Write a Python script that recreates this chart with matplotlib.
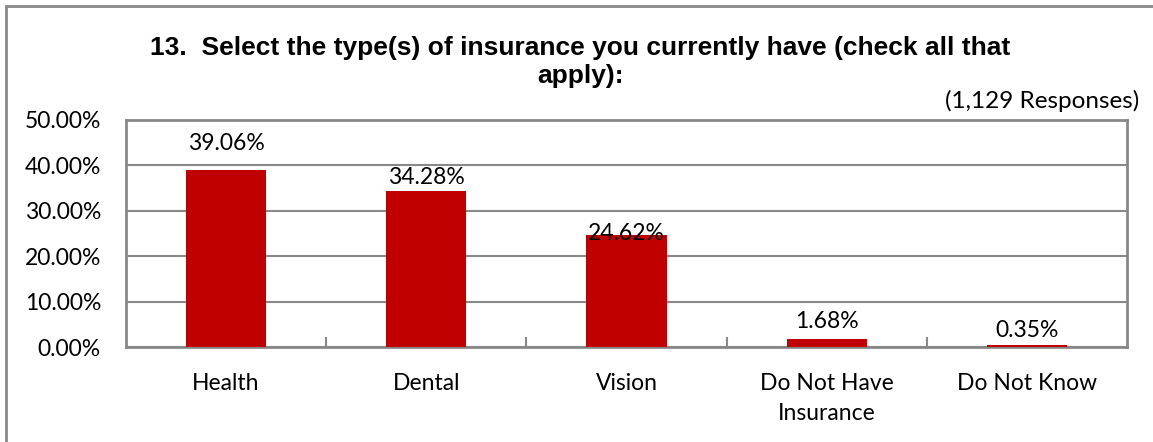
import matplotlib
matplotlib.use("Agg")
import matplotlib.pyplot as plt
from matplotlib.patches import Rectangle
from matplotlib.ticker import FuncFormatter

categories = ["Health", "Dental", "Vision", "Do Not Have\nInsurance", "Do Not Know"]
values = [39.06, 34.28, 24.62, 1.68, 0.35]
yticks = [0, 10, 20, 30, 40, 50]
title = "13.  Select the type(s) of insurance you currently have (check all that\napply):"
note = "(1,129 Responses)"

# label offsets above bar tops (pixels) – layout only
label_offsets_px = [26, 14, 2, 18, 15]

W, H = 1153, 442
fig = plt.figure(figsize=(W/100, H/100), dpi=100)
font = "Lato"

# outer border (left and top visible)
fig.patches.append(Rectangle((6/W, -0.05), 1.05, 1.05 - 6/H, transform=fig.transFigure,
                             fill=False, edgecolor="#888888", linewidth=2))

left, right, top, bottom = 126, 1127, 120, 347
ax = fig.add_axes([left/W, 1-bottom/H, (right-left)/W, (bottom-top)/H])
x = list(range(len(categories)))
bars = ax.bar(x, values, width=0.4, color="#C00000", zorder=3)
ax.set_xlim(-0.5, len(categories)-0.5)
ax.set_ylim(0, 50)
ax.set_yticks(yticks)
ax.yaxis.set_major_formatter(FuncFormatter(lambda v, p: f"{v:.2f}%"))
ax.grid(axis="y", color="#888888", linewidth=1.5, zorder=0)
for s in ax.spines.values():
    s.set_color("#888888")
    s.set_linewidth(2)
ax.tick_params(axis="y", length=0, pad=18, labelsize=16.5)
ax.set_xticks(x)
ax.set_xticklabels(categories, fontsize=16.5, linespacing=1.5)
ax.tick_params(axis="x", length=0, pad=19)
for lab in ax.get_xticklabels() + ax.get_yticklabels():
    lab.set_family(font)
ax.set_xticks([i + 0.5 for i in range(len(categories)-1)], minor=True)
ax.tick_params(axis="x", which="minor", direction="in", length=7, width=1.5, color="#888888")

for b, v, off in zip(bars, values, label_offsets_px):
    ax.annotate(f"{v:.2f}%", (b.get_x()+b.get_width()/2, v), xytext=(0, off*0.72),
                textcoords="offset points", ha="center", va="center",
                fontsize=16.5, family=font)

fig.text(580/W, 1-62/H, title, ha="center", va="center", fontsize=19,
         fontweight="bold", family="Liberation Sans", linespacing=1.2)
fig.text(1139/W, 1-101/H, note, ha="right", va="center", fontsize=17.5, family=font)

fig.savefig("out.png", dpi=100)
